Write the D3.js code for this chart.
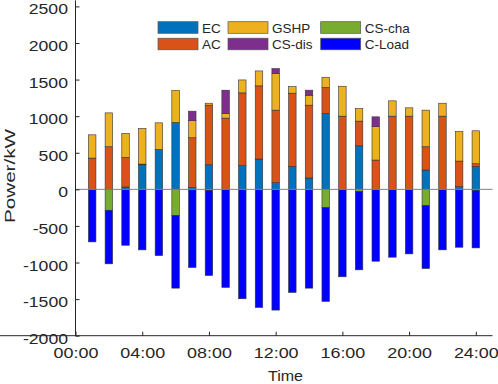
<!DOCTYPE html>
<html><head><meta charset="utf-8">
<script src="https://cdn.jsdelivr.net/npm/d3@7"></script>
<style>body{margin:0;background:#fff}svg{display:block}text{font-family:"Liberation Sans",Arial,Helvetica,sans-serif;fill:#262626}</style>
</head><body><svg id="c" width="498" height="384"></svg>
<script>
const hours = [1,2,3,4,5,6,7,8,9,10,11,12,13,14,15,16,17,18,19,20,21,22,23,24];
const EC    = [0,0,32,336,545,914,23,336,0,323,414,91,314,155,1036,0,595,0,0,0,264,0,36,313];
const AC    = [427,582,404,9,0,0,682,814,973,995,1000,991,1000,995,355,1000,337,400,1000,1000,318,1000,350,37];
const GSHP  = [318,463,328,487,364,436,236,27,63,177,204,500,90,136,141,409,172,459,209,114,500,177,405,450];
const CSdis = [0,0,0,0,0,0,127,0,319,0,0,68,0,69,0,0,0,132,0,0,0,0,0,0];
const CScha = [0,-286,0,0,0,-355,0,-14,0,0,0,0,0,0,-250,0,-32,0,0,0,-223,0,0,-14];
const CLoad = [-718,-732,-764,-827,-905,-995,-1068,-1163,-1340,-1495,-1614,-1650,-1409,-1350,-1282,-1195,-1068,-982,-927,-882,-859,-827,-791,-786];
const seriesNames = ["EC","AC","GSHP","CS-dis","CS-cha","C-Load"];
const colors = {"EC":"#0072BD","AC":"#D95319","GSHP":"#EDB120","CS-dis":"#7E2F8E","CS-cha":"#77AC30","C-Load":"#0000FF"};
const yTicks = [-2000,-1500,-1000,-500,0,500,1000,1500,2000,2500];
const yTickLabels = ["-2000","-1500","-1000","-500","0","500","1000","1500","2000","2500"];
const xTicks = [0,4,8,12,16,20,24];
const xTickLabels = ["00:00","04:00","08:00","12:00","16:00","20:00","24:00"];
const legendRows = [["EC","GSHP","CS-cha"],["AC","CS-dis","C-Load"]];

const rows = hours.map((h,i)=>({h, "EC":EC[i],"AC":AC[i],"GSHP":GSHP[i],"CS-dis":CSdis[i],"CS-cha":CScha[i],"C-Load":CLoad[i]}));
const svg = d3.select("#c");
const L=75.5, R=492.5, T=6.4, B=335.7;
const x = d3.scaleLinear().domain([0,25]).range([L,R]);
const y = d3.scaleLinear().domain([-2000,2500]).range([B,T]);
const bw = x(0.45)-x(0);

const stack = d3.stack().keys(seriesNames).offset(d3.stackOffsetDiverging)(rows);
svg.append("g").selectAll("g").data(stack).join("g")
  .attr("fill",d=>colors[d.key])
  .selectAll("rect").data(d=>d.filter(v=>Math.abs(v[1]-v[0])>0)).join("rect")
  .attr("x",d=>x(d.data.h)-bw/2).attr("width",bw)
  .attr("y",d=>y(Math.max(d[0],d[1]))).attr("height",d=>Math.abs(y(d[0])-y(d[1])))
  .attr("stroke","#333").attr("stroke-width",0.6);

// zero line
svg.append("line").attr("x1",L).attr("x2",R).attr("y1",y(0)).attr("y2",y(0)).attr("stroke","#808080").attr("stroke-width",1);

// axes
const ay = svg.append("g").attr("transform",`translate(${L},0)`)
  .call(d3.axisLeft(y).tickValues(yTicks).tickFormat((d,i)=>yTickLabels[i]).tickSize(-4).tickPadding(7).tickSizeOuter(0));
const ax = svg.append("g").attr("transform",`translate(0,${B})`)
  .call(d3.axisBottom(x).tickValues(xTicks).tickFormat((d,i)=>xTickLabels[i]).tickSize(-4).tickPadding(0).tickSizeOuter(0));
[ay,ax].forEach(a=>{a.select(".domain").attr("stroke","#262626").attr("stroke-width",1);
  a.selectAll(".tick line").attr("stroke","#262626");
  a.selectAll("text").attr("font-size",14).attr("fill","#262626").style("font-family",'"Liberation Sans",Arial,sans-serif');});
ay.select(".domain").attr("d",`M0,${T-6}V${B}`);
ax.select(".domain").attr("d",`M0,0H${R}`);
ay.selectAll("text").attr("dy",null).attr("y",7.5).attr("x",-7.5)
  .each(function(){const w=this.getComputedTextLength();d3.select(this).attr("textLength",w*1.26).attr("lengthAdjust","spacingAndGlyphs");});
ax.selectAll("text").attr("dy",null).attr("y",22.6)
  .each(function(){const w=this.getComputedTextLength();d3.select(this).attr("textLength",w*1.28).attr("lengthAdjust","spacingAndGlyphs");});

// labels
svg.append("text").attr("x",285.5).attr("y",380.5).attr("text-anchor","middle").attr("font-size",14.5)
  .attr("textLength",35).attr("lengthAdjust","spacingAndGlyphs").text("Time");
svg.append("text").attr("transform","translate(15,176) rotate(-90)").attr("text-anchor","middle").attr("font-size",15)
  .attr("textLength",94).attr("lengthAdjust","spacingAndGlyphs").text("Power/kW");

// legend
const colX = [158,228,320.7], rowY=[27.5,44];
legendRows.forEach((row,ri)=>row.forEach((k,ci)=>{
  const g = svg.append("g").attr("transform",`translate(${colX[ci]},${rowY[ri]})`);
  g.append("rect").attr("x",0).attr("y",-5.8).attr("width",40).attr("height",11.6).attr("fill",colors[k]).attr("stroke","#555").attr("stroke-width",0.7);
  g.append("text").attr("x",44).attr("y",5).attr("font-size",13.5).text(k);
}));
</script></body></html>
